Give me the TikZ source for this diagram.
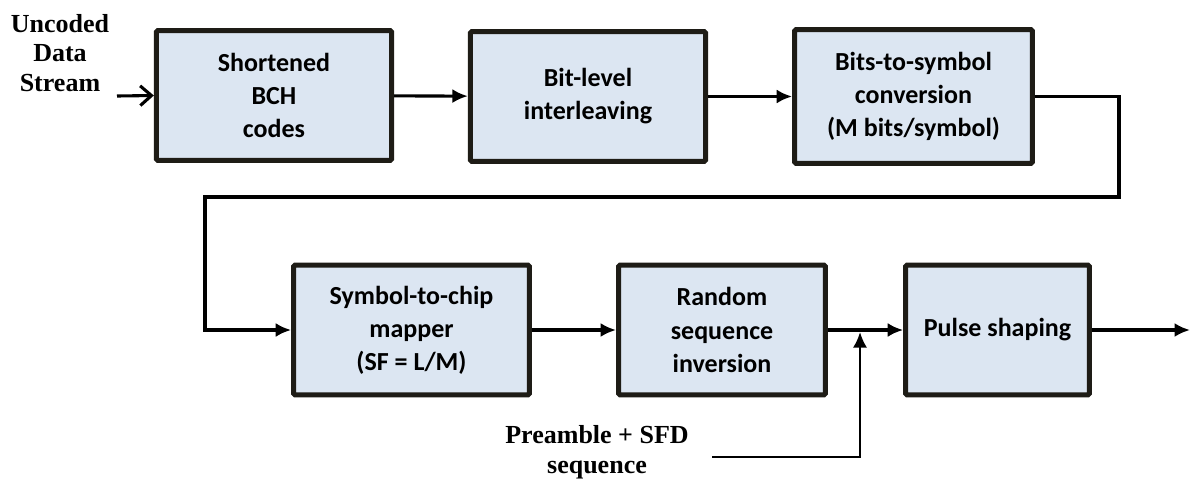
\documentclass[tikz,border=0pt]{standalone}
\usepackage{fontspec}
\setmainfont{Liberation Serif}
\newfontfamily\blockfont{Carlito}
\usetikzlibrary{arrows.meta}
\definecolor{blockfill}{RGB}{220,230,242}
\definecolor{blockline}{RGB}{30,28,22}

\begin{document}
\begin{tikzpicture}[x=0.025cm, y=-0.025cm,
    block/.style={draw=blockline, fill=blockfill, line width=3.6pt, rounded corners=1pt,
      align=center, inner sep=0pt, minimum height=3.24cm,
      font=\blockfont\bfseries\fontsize{18.5}{23.5}\selectfont},
    lbl/.style={align=center, inner sep=0pt, font=\bfseries\fontsize{18.5}{21}\selectfont},
    flow/.style={line width=2.2pt, -{Latex[length=11pt,width=10pt]}}]
      \useasboundingbox (0,0) rectangle (1190,481);

      \node[block, minimum width=5.88cm] (B1) at (274,95.5) {Shortened\\BCH\\codes};
      \node[block, minimum width=5.88cm] (B2) at (588,96.5) {Bit-level\\interleaving};
      \node[block, minimum width=5.94cm, minimum height=3.34cm] (B3) at (913.5,96.5)
        {Bits-to-symbol\\conversion\\(M bits/symbol)};
      \node[block, minimum width=5.89cm] (B4) at (411.5,330) {Symbol-to-chip\\mapper\\(SF = L/M)};
      \node[block, minimum width=5.17cm] (B5) at (722,330) {Random\\sequence\\inversion};
      \node[block, minimum width=4.59cm] (B6) at (997.5,330) {Pulse shaping};

      \node[lbl] (src) at (60,53) {Uncoded\\Data\\Stream};
      \node[lbl] (pre) at (597,452) {Preamble + SFD\\sequence};

      \coordinate (in) at (117,96);
      \coordinate (R) at (1119,197);
      \coordinate (L) at (205,197);
      \coordinate (sum) at (860,330);
      \coordinate (pin) at (712,457);
      \coordinate (out) at (1190,330);

      \draw[line width=2.2pt, -{Straight Barb[length=8pt,width=14pt]}] (in) -- (B1.west);
      \draw[flow] (B1) -- (B2);
      \draw[flow] (B2) -- (B3);
      \draw[flow] (B3.east) -| (R) -- (L) |- (B4.west);
      \draw[flow] (B4) -- (B5);
      \draw[flow] (B5) -- (B6);
      \draw[flow] (B6) -- (out);
      \draw[line width=1.5pt, -{Latex[length=11pt,width=10pt]}, shorten >=1.5pt] (pin) -| (sum);
\end{tikzpicture}
\end{document}
